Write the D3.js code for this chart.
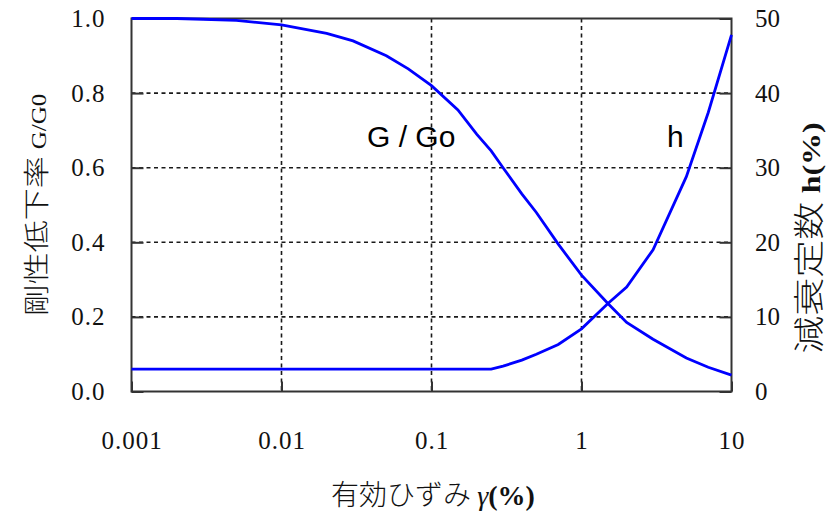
<!DOCTYPE html>
<html>
<head>
<meta charset="utf-8">
<script type="text/javascript" src="https://cdn.jsdelivr.net/npm/d3@7/dist/d3.min.js"></script>
<style type="text/css">
 body { margin:0; background-color:#ffffff; }
 .tick text { font-family:"Liberation Serif","Times New Roman",serif; font-size:25px; fill:#111; }
 .cjk { font-family:"Noto Sans CJK JP",sans-serif; font-weight:300; }
 .ser { font-family:"Liberation Serif","Times New Roman",serif; }
</style>
</head>
<body>
<script type="text/javascript">

 // effective strain (%) and the two curves
 var strain = [0.001, 0.002, 0.003, 0.005, 0.01, 0.02, 0.03, 0.05, 0.07, 0.1, 0.15, 0.2, 0.25,
               0.3, 0.4, 0.5, 0.7, 1, 1.5, 2, 3, 5, 7, 10];
 var gRatio = [1.0, 1.0, 0.998, 0.995, 0.983, 0.96, 0.94, 0.90, 0.865, 0.82, 0.755, 0.69, 0.645,
               0.60, 0.53, 0.48, 0.395, 0.312, 0.236, 0.185, 0.14, 0.09, 0.065, 0.044];
 var hDamp  = [3.0, 3.0, 3.0, 3.0, 3.0, 3.0, 3.0, 3.0, 3.0, 3.0, 3.0, 3.0, 3.0,
               3.4, 4.2, 5.0, 6.3, 8.4, 11.8, 14.0, 19.0, 28.8, 37.4, 47.8];

 var xTicks = [0.001, 0.01, 0.1, 1, 10];
 var yLeftTicks = [0, 0.2, 0.4, 0.6, 0.8, 1.0];
 var yRightTicks = [0, 10, 20, 30, 40, 50];

 var W = 836, H = 514;
 var pLeft = 131.5, pRight = 731.5, pTop = 18.5, pBottom = 391.5;

 var svg = d3.select("body").append("svg")
             .attr("width", W)
             .attr("height", H);

 var x = d3.scaleLog().domain([0.001, 10]).range([pLeft, pRight]);
 var yL = d3.scaleLinear().domain([0, 1]).range([pBottom, pTop]);
 var yR = d3.scaleLinear().domain([0, 50]).range([pBottom, pTop]);

 // dashed grid
 var grid = svg.append("g")
     .attr("stroke", "#1a1a1a")
     .attr("stroke-width", 1.6)
     .attr("stroke-dasharray", "4,3.5");
 grid.selectAll("line.v").data(xTicks.slice(1, -1)).enter().append("line")
     .attr("class", "v")
     .attr("x1", function(d){ return x(d); }).attr("x2", function(d){ return x(d); })
     .attr("y1", pTop).attr("y2", pBottom);
 grid.selectAll("line.h").data(yLeftTicks.slice(1, -1)).enter().append("line")
     .attr("class", "h")
     .attr("y1", function(d){ return yL(d); }).attr("y2", function(d){ return yL(d); })
     .attr("x1", pLeft).attr("x2", pRight);

 // axes with short inward ticks
 var gx = svg.append("g")
     .attr("transform", "translate(0," + pBottom + ")")
     .call(d3.axisBottom(x).tickValues(xTicks).tickFormat(d3.format("~g"))
             .tickSize(-10).tickSizeOuter(0));
 gx.selectAll("text").attr("dy", null).attr("y", 57).attr("letter-spacing", 1);

 var gl = svg.append("g")
     .attr("transform", "translate(" + pLeft + ",0)")
     .call(d3.axisLeft(yL).tickValues(yLeftTicks).tickFormat(d3.format(".1f"))
             .tickSize(-12).tickSizeOuter(0).tickPadding(26));
 gl.selectAll("text").attr("letter-spacing", 1);

 var gr = svg.append("g")
     .attr("transform", "translate(" + pRight + ",0)")
     .call(d3.axisRight(yR).tickValues(yRightTicks)
             .tickSize(-12).tickSizeOuter(0).tickPadding(23.5));

 svg.selectAll(".domain").remove();
 svg.selectAll(".tick line").attr("stroke", "#333").attr("stroke-width", 2);

 // frame
 svg.append("rect")
     .attr("x", pLeft).attr("y", pTop)
     .attr("width", pRight - pLeft).attr("height", pBottom - pTop)
     .attr("fill", "none").attr("stroke", "#333").attr("stroke-width", 2);

 // curves
 var lineG = d3.line().x(function(d, i){ return x(strain[i]); }).y(function(d){ return yL(d); });
 var lineH = d3.line().x(function(d, i){ return x(strain[i]); }).y(function(d){ return yR(d); });

 svg.append("path").datum(gRatio).attr("d", lineG)
     .attr("fill", "none").attr("stroke", "#0000ff").attr("stroke-width", 2.8);
 svg.append("path").datum(hDamp).attr("d", lineH)
     .attr("fill", "none").attr("stroke", "#0000ff").attr("stroke-width", 2.8);

 // curve labels
 svg.append("text").attr("x", 367).attr("y", 147)
     .style("font-family", "'Liberation Sans',Arial,sans-serif").style("font-size", "30px")
     .text("G / Go");
 svg.append("text").attr("x", 667).attr("y", 147)
     .style("font-family", "'Liberation Sans',Arial,sans-serif").style("font-size", "30px")
     .text("h");

 // axis titles (the glyphs in the picture are wide and flat, hence the scale)
 var tl = svg.append("text")
     .attr("transform", "translate(46,205) rotate(-90) scale(1,0.8)")
     .attr("text-anchor", "middle").style("fill", "#111");
 tl.append("tspan").attr("class", "cjk").style("font-size", "32px").text("剛性低下率 ");
 tl.append("tspan").attr("class", "ser").style("font-size", "25px").text("G/G0");

 var tr = svg.append("text")
     .attr("transform", "translate(820,238) rotate(-90) scale(1,0.8)")
     .attr("text-anchor", "middle").style("fill", "#111");
 tr.append("tspan").attr("class", "cjk").style("font-size", "38px").text("減衰定数 ");
 tr.append("tspan").attr("class", "ser").style("font-size", "32px").style("font-weight", "bold").text("h(%)");

 var tb = svg.append("text")
     .attr("x", 433).attr("y", 505)
     .attr("text-anchor", "middle").style("fill", "#111");
 tb.append("tspan").attr("class", "cjk").style("font-size", "28px").text("有効ひずみ ");
 tb.append("tspan").attr("class", "ser").style("font-size", "28px").style("font-style", "italic").text("γ");
 tb.append("tspan").attr("class", "ser").style("font-size", "28px").style("font-weight", "bold").text("(%)");

</script>
</body>
</html>
